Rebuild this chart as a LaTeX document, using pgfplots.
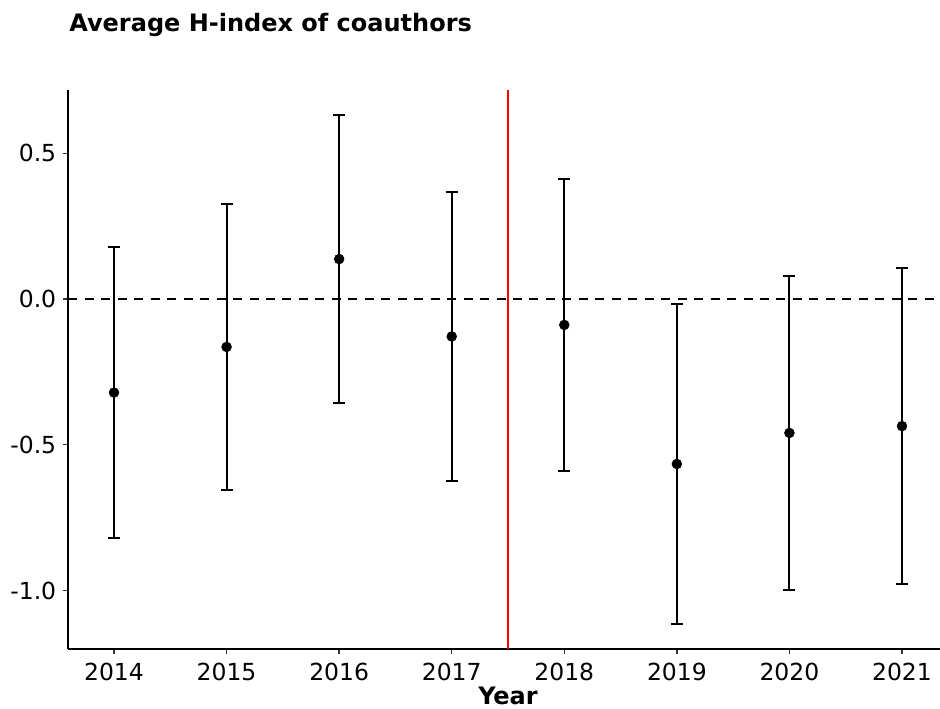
\documentclass[border=0pt]{standalone}
\usepackage{fontspec}
\setmainfont{DejaVu Sans}
\usepackage{pgfplots}
\pgfplotsset{compat=1.18}

\begin{document}
\begin{tikzpicture}
  \begin{axis}[
      name=main,
      scale only axis,
      width=659.4pt,
      height=419.25pt,
      xmin=2013.595, xmax=2021.405,
      ymin=-1.2007, ymax=0.717,
      axis x line*=bottom,
      axis y line*=left,
      axis line style={line width=1.5pt, black},
      xtick={2014,2015,...,2021},
      xticklabels={2014,2015,2016,2017,2018,2019,2020,2021},
      ytick={-1,-0.5,0,0.5},
      yticklabels={-1.0,-0.5,0.0,0.5},
      tick align=outside,
      major tick length=4pt,
      tick style={line width=1.1pt, black!80},
      ticklabel style={font=\fontsize{17.6}{20}\selectfont},
      xticklabel style={inner sep=0pt, anchor=north, yshift=-6pt},
      yticklabel style={inner sep=0pt, anchor=east, xshift=-5pt},
      clip=false,
    ]
    \draw[black, line width=1.5pt, dash pattern=on 6.75pt off 5.6pt]
      (axis cs:2013.595,0) -- (axis cs:2021.405,0);
    \draw[red, line width=1.5pt]
      (axis cs:2017.5,-1.2007) -- (axis cs:2017.5,0.717);
    \addplot[only marks, mark=*, mark size=3.7pt, black,
      error bars/.cd, y dir=both, y explicit,
      error bar style={line width=1.5pt, black},
      error mark options={rotate=90, line width=1.5pt, mark size=4.5pt, black}]
      table[x=x, y=y, y error=e] {
        x     y        e
        2014  -0.321   0.499
        2015  -0.1645  0.4905
        2016   0.137   0.494
        2017  -0.1285  0.4955
        2018  -0.089   0.501
        2019  -0.566   0.549
        2020  -0.4595  0.5385
        2021  -0.436   0.542
      };
    \node[anchor=base, font=\fontsize{18}{21}\selectfont\bfseries]
      at ([yshift=-42pt]rel axis cs:0.5,0) {Year};
    \node[anchor=base west, inner sep=0pt, font=\fontsize{18}{22}\selectfont\bfseries]
      at ([xshift=0.5pt, yshift=43.9pt]rel axis cs:0,1) {Average H-index of coauthors};
  \end{axis}
  \pgfresetboundingbox
  \path (main.south west) ++(-51.3pt,-45pt) coordinate (bl);
  \path (main.south west) ++(653.7pt,486.75pt) coordinate (tr);
  \path[use as bounding box] (bl) rectangle (tr);
\end{tikzpicture}
\end{document}
